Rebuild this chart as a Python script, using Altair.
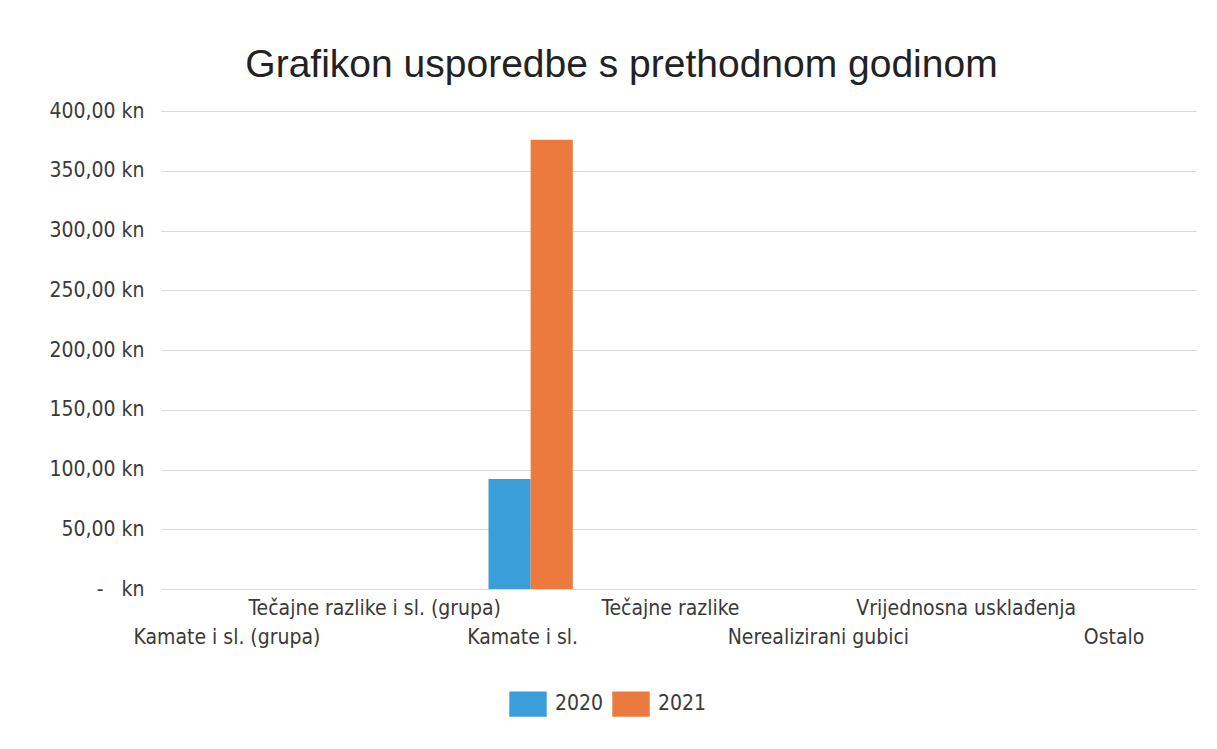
import altair as alt
import pandas as pd

categories = [
    "Kamate i sl. (grupa)",
    "Tečajne razlike i sl. (grupa)",
    "Kamate i sl.",
    "Tečajne razlike",
    "Nerealizirani gubici",
    "Vrijednosna usklađenja",
    "Ostalo",
]
values_2020 = [0, 0, 92, 0, 0, 0, 0]
values_2021 = [0, 0, 376, 0, 0, 0, 0]
years = ["2020", "2021"]
colors = ["#3a9fd8", "#ec7a3f"]
y_ticks = [0, 50, 100, 150, 200, 250, 300, 350, 400]
lower_row = ["Kamate i sl. (grupa)", "Kamate i sl.", "Nerealizirani gubici", "Ostalo"]

rows = []
for c, a, b in zip(categories, values_2020, values_2021):
    rows.append({"kategorija": c, "godina": years[0], "iznos": a})
    rows.append({"kategorija": c, "godina": years[1], "iznos": b})
df = pd.DataFrame(rows)

lower_js = "[" + ",".join("'" + s + "'" for s in lower_row) + "]"

FONT = "DejaVu Sans Condensed"
TXT = "#3a3a3a"

chart = alt.Chart(df).mark_bar().encode(
    x=alt.X(
        "kategorija:N",
        sort=categories,
        title=None,
        scale=alt.Scale(paddingInner=0.43, paddingOuter=0.215),
        axis=alt.Axis(
            labelAngle=0,
            ticks=False,
            domain=False,
            grid=False,
            labelFont=FONT,
            labelFontSize=21,
            labelColor=TXT,
            labelPadding=8,
            labelLineHeight=29,
            labelLimit=400,
            labelOffset=-8,
            labelExpr=f"indexof({lower_js}, datum.value) >= 0 ? ['', datum.value] : datum.value",
        ),
    ),
    xOffset=alt.XOffset("godina:N", sort=years, scale=alt.Scale(paddingInner=0, paddingOuter=0)),
    y=alt.Y(
        "iznos:Q",
        title=None,
        scale=alt.Scale(domain=[0, 400], nice=False),
        axis=alt.Axis(
            values=y_ticks,
            ticks=False,
            domain=False,
            gridColor="#d9d9d9",
            gridWidth=1,
            labelFont=FONT,
            labelFontSize=21,
            labelColor=TXT,
            labelPadding=17,
            labelExpr="datum.value == 0 ? '-\u00a0\u00a0\u00a0kn' : replace(format(datum.value, '.2f'), '.', ',') + ' kn'",
        ),
    ),
    color=alt.Color(
        "godina:N",
        sort=years,
        scale=alt.Scale(domain=years, range=colors),
        legend=alt.Legend(
            orient="none",
            legendX=348,
            legendY=574,
            direction="horizontal",
            title=None,
            symbolType="M-1,-0.68L1,-0.68L1,0.68L-1,0.68Z",
            symbolSize=1400,
            symbolStrokeWidth=0,
            labelFont=FONT,
            labelFontSize=21,
            labelColor=TXT,
            labelOffset=8,
            columnPadding=8,
        ),
    ),
).properties(
    width=1035,
    height=478,
    title=alt.TitleParams(
        "Grafikon usporedbe s prethodnom godinom",
        font="Liberation Sans",
        fontSize=39,
        fontWeight="normal",
        color="#222222",
        offset=15,
        anchor="middle",
        dx=-57,
    ),
    padding={"left": 40, "top": 38, "right": 4, "bottom": 20},
).configure(background="white").configure_view(stroke=None)

chart.save("out.html", embed_options={"renderer": "svg", "actions": False})
